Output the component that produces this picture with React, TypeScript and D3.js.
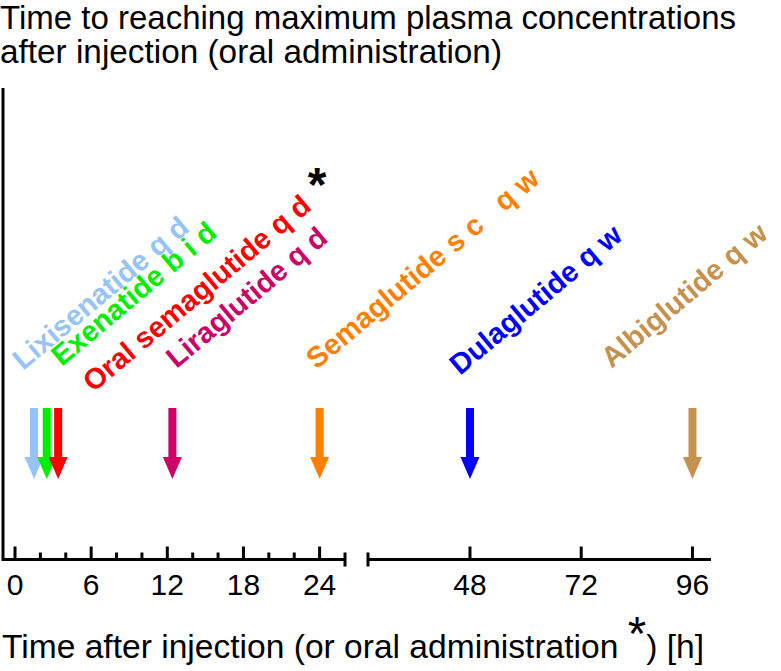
import React from 'react';
import * as d3 from 'd3';

const width = 781;
const height = 671;

// data
const drugs = ['Lixisenatide', 'Exenatide', 'Oral semaglutide', 'Liraglutide', 'Semaglutide', 'Dulaglutide', 'Albiglutide'];
const regimens = ['q d', 'b i d', 'q d', 'q d', 's c   q w', 'q w', 'q w'];
const tmaxHours = [1.5, 2.5, 3.4, 12.4, 24, 48, 96];
const colors = ['#96c3fa', '#00ee00', '#ff0000', '#cc0066', '#ff8000', '#0000ff', '#c4924e'];
const majorTicksShort = [0, 6, 12, 18, 24];
const minorTicksShort = [2, 4, 8, 10, 14, 16, 20, 22];
const majorTicksLong = [48, 72, 96];

// layout of the rotated labels (offset from arrow x, baseline y)
const labelDx = [-11, 15, 35, 4, -3, -10, -81];
const labelY = [371, 367, 393, 369, 370, 376, 369];

const axisY = 559.5;
const xShort = d3.scaleLinear().domain([0, 26]).range([15, 345]);
const xLong = d3.scaleLinear().domain([26, 100]).range([368, 711]);
const xPos = (h: number) => (h <= 26 ? xShort(h) : xLong(h));

const font = 'Liberation Sans, Arial, Helvetica, sans-serif';

function arrowPath(h: number) {
    const x = xPos(h);
    const p = d3.path();
    p.moveTo(x - 4, 408);
    p.lineTo(x + 4, 408);
    p.lineTo(x + 4, 457);
    p.lineTo(x + 9.5, 457);
    p.lineTo(x, 479);
    p.lineTo(x - 9.5, 457);
    p.lineTo(x - 4, 457);
    p.closePath();
    return p.toString();
}

export default function App() {
    return (
        <div style={{position: 'absolute', left: 0, top: 0}}>
            <svg width={width} height={height} style={{display: 'block', background: '#fff'}}>
                {/* title */}
                <text x={0} y={29} fontFamily={font} fontSize={33}>Time to reaching maximum plasma concentrations</text>
                <text x={0} y={63} fontFamily={font} fontSize={33} textLength={502} lengthAdjust="spacingAndGlyphs">after injection (oral administration)</text>

                {/* axes */}
                <g stroke="#000" strokeWidth={3} fill="none">
                    <line x1={3} y1={88} x2={3} y2={axisY + 1.5}/>
                    <line x1={3} y1={axisY} x2={xShort(26)} y2={axisY}/>
                    <line x1={xLong(26)} y1={axisY} x2={xLong(100)} y2={axisY}/>
                    <line x1={xShort(26)} y1={axisY - 7} x2={xShort(26)} y2={axisY + 7}/>
                    <line x1={xLong(26)} y1={axisY - 7} x2={xLong(26)} y2={axisY + 7}/>
                    {majorTicksShort.map(t => (
                        <line key={'ms' + t} x1={xShort(t)} x2={xShort(t)} y1={axisY} y2={axisY - 13}/>
                    ))}
                    {minorTicksShort.map(t => (
                        <line key={'mi' + t} x1={xShort(t)} x2={xShort(t)} y1={axisY} y2={axisY - 7}/>
                    ))}
                    {majorTicksLong.map(t => (
                        <line key={'ml' + t} x1={xLong(t)} x2={xLong(t)} y1={axisY} y2={axisY - 13}/>
                    ))}
                </g>
                <g fontFamily={font} fontSize={30} textAnchor="middle">
                    {majorTicksShort.map(t => (
                        <text key={'ls' + t} x={xShort(t)} y={595}>{t}</text>
                    ))}
                    {majorTicksLong.map(t => (
                        <text key={'ll' + t} x={xLong(t)} y={595}>{t}</text>
                    ))}
                </g>

                {/* axis label */}
                <text x={2} y={658} fontFamily={font} fontSize={34} textLength={702} lengthAdjust="spacingAndGlyphs">
                    Time after injection (or oral administration <tspan fontSize={48} dy={-8}>*</tspan><tspan dy={8}>) [h]</tspan>
                </text>

                {/* arrows */}
                {tmaxHours.map((h, i) => (
                    <path key={'a' + i} d={arrowPath(h)} fill={colors[i]}/>
                ))}

                {/* labels */}
                {drugs.map((d, i) => {
                    const x = xPos(tmaxHours[i]) + labelDx[i];
                    const y = labelY[i];
                    return (
                        <text key={'t' + i} transform={`translate(${x},${y}) rotate(-40)`}
                              fontFamily={font} fontSize={29} fontWeight="bold" fill={colors[i]}
                              style={{whiteSpace: 'pre'}}>
                            {d + ' ' + regimens[i]}
                        </text>
                    );
                })}
                <text x={317} y={201} fontFamily={font} fontSize={48} fontWeight="bold" textAnchor="middle">*</text>
            </svg>
        </div>
    );
}
